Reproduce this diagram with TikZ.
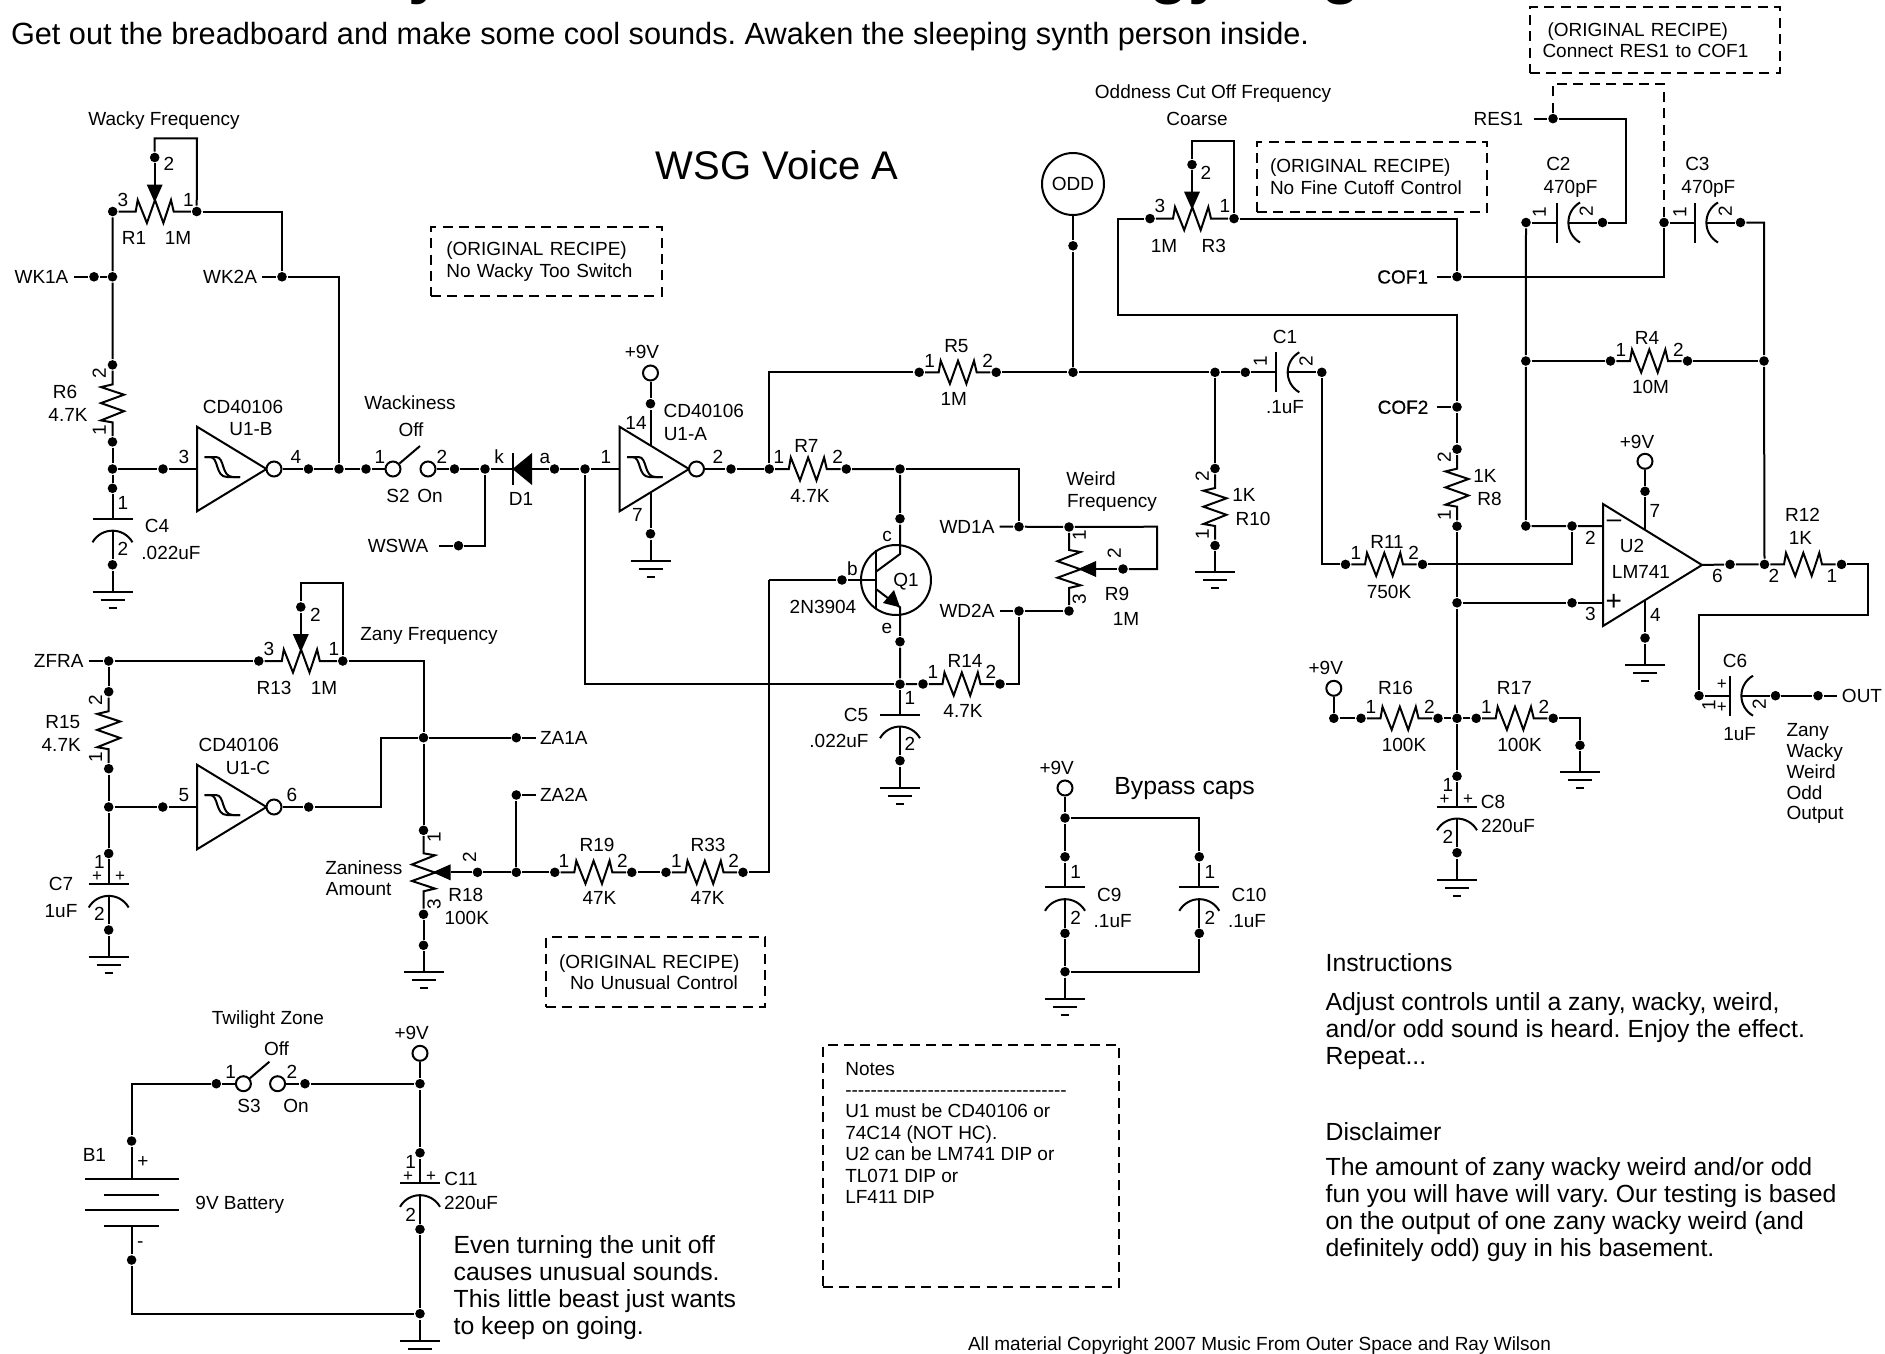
\documentclass[tikz,border=0pt]{standalone}
\usepackage{fontspec}
\setmainfont{Liberation Sans}
\newfontfamily\heavyfont[FakeBold=0.6]{Liberation Sans}
\usetikzlibrary{positioning}

\begin{document}
\frenchspacing
\begin{tikzpicture}[
    % GLOBAL CFG
    x=0.5pt,
    y=-0.5pt,
    line width=1pt,
    % Styles
    dot/.style={% For solder points
        circle,
        fill,
        inner sep=0pt,
        minimum size=4.8pt,
        },
    term/.style={% For open terminals, inverter bubbles and switch contacts
        circle,
        draw,
        fill=white,
        inner sep=0pt,
        minimum size=7.5pt,
        },
    lbl/.style={% Small labels
        font=\fontsize{9.5}{10.7}\selectfont,
        inner sep=0pt,
        text height=6.8pt,
        text depth=0pt,
        },
    lblr/.style={% Pin numbers on their side
        lbl,
        rotate=90,
        },
    lblw/.style={% Labels that start at their coordinate
        lbl,
        anchor=west,
        },
    lblp/.style={% The small plus signs on the polarised caps
        lbl,
        font=\fontsize{8.5}{10}\selectfont,
        text height=5pt,
        },
    recipe/.style={% Dashed boxes
        rectangle,
        draw,
        dash pattern=on 5pt off 3.2pt,
        font=\fontsize{9.5}{10.7}\selectfont,
        inner ysep=0pt,
        },
    note/.style={% Running text
        font=\fontsize{12.4}{13.5}\selectfont,
        align=left,
        anchor=north west,
        inner sep=0pt,
        },
    bigtop/.style={% What is left of the heading
        font=\fontsize{32}{32}\selectfont\bfseries,
        anchor=base,
        inner sep=0pt,
        },
    res/.pic={% Resistor, pin a left
        \node[dot] (-a) at (-38.5,0) {};
        \node[dot] (-b) at (38.5,0) {};
        \draw (-a) -- (-19,0) -- (-17,-11.5) -- (-7.8,11.5) -- (0.3,-11.5) -- (8.7,11.5) -- (16.3,-11.5) -- (19,0) -- (-b);
        },
    pot/.pic={% Potentiometer, wiper on top
        \node[dot] (-a) at (-42,0) {};
        \node[dot] (-b) at (42,0) {};
        \node[dot] (-w) at (0,-54) {};
        \draw (-a) -- (-19,0) -- (-17,-11.5) -- (-7.8,11.5) -- (0.3,-11.5) -- (8.7,11.5) -- (16.3,-11.5) -- (19,0) -- (-b);
        \draw (-w) -- (0,-27);
        \fill (-8,-27) -- (8,-27) -- (0,-9) -- cycle;
        },
    capa/.pic={% Capacitor, pin a on the plate side
        \node[dot] (-a) at (0,-30.5) {};
        \node[dot] (-b) at (0,46) {};
        \draw (-a) -- (0,0);
        \draw (-20,0) -- (20,0);
        \draw (-20,23.5) .. controls (-11,8) and (11,8) .. (20,23.5);
        \draw (0,12) -- (-b);
        },
    gnd/.pic={% Ground
        \coordinate (-t) at (0,0);
        \draw (-20,0) -- (20,0);
        \draw (-12,8) -- (12,8);
        \draw (-4,16) -- (4,16);
        },
    inv/.pic={% Schmitt inverter
        \coordinate (-in) at (0,0);
        \draw (0,-42.3) -- (69.5,0) -- (0,42.3) -- cycle;
        \node[term] (-out) at (77,0) {};
        \draw (7.5,-12) -- (13,-12) .. controls (22,-12) and (18,8) .. (30,8) -- (43,8);
        \draw (7.5,-12) -- (19,-12) .. controls (28,-12) and (24,8) .. (36,8) -- (43,8);
        },
    ]

\useasboundingbox (0,0) rectangle (1885,1354);

%Start drawing the thing...
    % Headings
    \node[bigtop] (top1) at (426,-8) {y};
    \node[bigtop] (top2) at (1187,-8) {gy};
    \node[bigtop] (top3) at (1341,-8) {g};
    \node[font=\fontsize{15.35}{17}\selectfont, anchor=west, inner sep=0pt] (sub) at (10,36.5) {Get out the breadboard and make some cool sounds. Awaken the sleeping synth person inside.};
    \node[font=\fontsize{20}{22}\selectfont, inner sep=0pt] (voice) at (777,165) {WSG Voice A};
    \node[lbl, anchor=west] (copy) at (967,1344) {All material Copyright 2007 Music From Outer Space and Ray Wilson};

    % Dashed boxes
    \node[recipe, minimum width=115.3pt, minimum height=34.4pt, text width=100pt, align=left] (box1) at (546.3,261.4) {(ORIGINAL RECIPE)\\No Wacky Too Switch};
    \node[recipe, minimum width=115.3pt, minimum height=34.6pt, text width=102pt, align=left] (box2) at (1372,176.9) {(ORIGINAL RECIPE)\\No Fine Cutoff Control};
    \node[recipe, minimum width=125pt, minimum height=33pt, text width=112pt, align=left] (box3) at (1654.5,40) {\hspace*{2.5pt}(ORIGINAL RECIPE)\\Connect RES1 to COF1};
    \node[recipe, minimum width=109.6pt, minimum height=34.7pt, text width=100pt, align=left] (box4) at (655.6,972) {\hspace*{1.7pt}(ORIGINAL RECIPE)\\\hspace*{7.2pt}No Unusual Control};
    \node[recipe, minimum width=148.3pt, minimum height=120.8pt] (notebox) at (971,1165.8) {};
    \node[lbl, align=left, anchor=north west, text height=, text depth=] (notes) at (844.3,1061) {Notes\\-{}-{}-{}-{}-{}-{}-{}-{}-{}-{}-{}-{}-{}-{}-{}-{}-{}-{}-{}-{}-{}-{}-{}-{}-{}-{}-{}-{}-{}-{}-{}-{}-{}-{}-{}\\U1 must be CD40106 or\\74C14 (NOT HC).\\U2 can be LM741 DIP or\\TL071 DIP or\\LF411 DIP};

    % Running text
    \node[note] (instr) at (1324.6,953) {Instructions};
    \node[note] (instrb) at (1324.6,992) {Adjust controls until a zany, wacky, weird,\\and/or odd sound is heard. Enjoy the effect.\\Repeat...};
    \node[note] (discl) at (1324.6,1122) {Disclaimer};
    \node[note] (disclb) at (1324.6,1157) {The amount of zany wacky weird and/or odd\\fun you will have will vary. Our testing is based\\on the output of one zany wacky weird (and\\definitely odd) guy in his basement.};
    \node[note] (even) at (452.6,1235) {Even turning the unit off\\causes unusual sounds.\\This little beast just wants\\to keep on going.};
    \node[note, anchor=west] (bypass) at (1113.3,789) {Bypass caps};

    % Draw resistors named as in the schematic
    \pic[rotate=90] (r6) at (112.5,403.4) {res};
    \pic (r5) at (957.7,372.3) {res};
    \pic (r7) at (807.8,469) {res};
    \pic (r14) at (961.5,684) {res};
    \pic[rotate=90] (r10) at (1215,507) {res};
    \pic[rotate=90] (r8) at (1457,487.7) {res};
    \pic (r4) at (1649,361) {res};
    \pic (r11) at (1384,564.4) {res};
    \pic (r12) at (1803,564.4) {res};
    \pic (r16) at (1399.5,718.3) {res};
    \pic (r17) at (1514.7,718.3) {res};
    \pic[rotate=90] (r15) at (108.7,730.2) {res};
    \pic (r19) at (593.3,872.3) {res};
    \pic (r33) at (704.5,872.3) {res};

    % Draw potentiometers
    \pic (r1) at (154.7,211.5) {pot};
    \pic (r3) at (1192,218.6) {pot};
    \pic (r13) at (300.8,661) {pot};
    \pic[rotate=-90] (r9) at (1069,569) {pot};
    \pic[rotate=-90] (r18) at (423.5,872.3) {pot};

    % Draw capacitors
    \pic (c4) at (112.5,518.8) {capa};
    \pic (c5) at (900,714.7) {capa};
    \pic (c7) at (108.7,884) {capa};
    \pic (c8) at (1457,806.7) {capa};
    \pic (c9) at (1065,887.3) {capa};
    \pic (c10) at (1199.3,887.3) {capa};
    \pic (c11) at (420,1183.3) {capa};
    \pic[rotate=90] (c1) at (1275.8,372.3) {capa};
    \pic[rotate=90] (c2) at (1556.5,222.5) {capa};
    \pic[rotate=90] (c3) at (1694.5,222.5) {capa};
    \pic[rotate=90] (c6) at (1729.5,695.7) {capa};

    % Draw grounds
    \pic (g1) at (112.5,592) {gnd};
    \pic (g2) at (650.5,560.7) {gnd};
    \pic (g3) at (900,787.7) {gnd};
    \pic (g4) at (1215,572.3) {gnd};
    \pic (g5) at (1645,664.7) {gnd};
    \pic (g6) at (1580,772) {gnd};
    \pic (g7) at (1457,880) {gnd};
    \pic (g8) at (108.7,956.7) {gnd};
    \pic (g9) at (423.5,971.7) {gnd};
    \pic (g10) at (1065,998.7) {gnd};
    \pic (g11) at (420,1341) {gnd};

    % Draw inverters named u1#
    \pic (u1b) at (197,469) {inv};
    \pic (u1a) at (619.5,469) {inv};
    \pic (u1c) at (197,807) {inv};

    % Draw the open terminals
    \node[term] (p9a) at (650.5,373) {};
    \node[term] (p9b) at (1645,461.3) {};
    \node[term] (p9c) at (1333.8,688.3) {};
    \node[term] (p9d) at (1065,788) {};
    \node[term] (p9e) at (420,1053.3) {};
    \node[term] (s2a) at (393,469) {};
    \node[term] (s2b) at (428,469) {};
    \node[term] (s3a) at (243.4,1083.7) {};
    \node[term] (s3b) at (277.6,1083.7) {};
    \node[circle, draw, inner sep=0pt, minimum size=31pt, font=\fontsize{9.5}{10.7}\selectfont] (odd) at (1073,184) {ODD};

    % Draw the solder points
    \node[dot] (wk1d) at (94,276.8) {};
    \node[dot] (wk1j) at (112.5,276.8) {};
    \node[dot] (wk2d) at (282,276.8) {};
    \node[dot] (u1bj) at (112.5,469) {};
    \node[dot] (u1bd) at (163,469) {};
    \node[dot] (u1bo) at (308.5,469) {};
    \node[dot] (n4j) at (339,469) {};
    \node[dot] (s2d1) at (366,469) {};
    \node[dot] (s2d2) at (454.5,469) {};
    \node[dot] (wsj) at (485,469) {};
    \node[dot] (wsd) at (458.5,545.7) {};
    \node[dot] (d1a) at (554.5,469) {};
    \node[dot] (u1aj) at (585,469) {};
    \node[dot] (u1atop) at (650.5,403.7) {};
    \node[dot] (u1abot) at (650.5,533.8) {};
    \node[dot] (u1ao) at (731,469) {};
    \node[dot] (r7j) at (900,469) {};
    \node[dot] (qc) at (900,518.7) {};
    \node[dot] (qb) at (842,580) {};
    \node[dot] (qe) at (900,641.7) {};
    \node[dot] (wd1d) at (1019,526.7) {};
    \node[dot] (wd2d) at (1019,611) {};
    \node[dot] (oddd) at (1073,245.8) {};
    \node[dot] (oddj) at (1073,372.3) {};
    \node[dot] (r10j) at (1215,372.3) {};
    \node[dot] (resd) at (1553,118.6) {};
    \node[dot] (cof1d) at (1457,276.7) {};
    \node[dot] (cof2d) at (1457,407) {};
    \node[dot] (r4l) at (1525.8,361) {};
    \node[dot] (r4r) at (1764,361) {};
    \node[dot] (u2l) at (1525.8,526) {};
    \node[dot] (u2n) at (1572,526) {};
    \node[dot] (u2p) at (1572,602.8) {};
    \node[dot] (vrj) at (1457,602.8) {};
    \node[dot] (r16j) at (1457,718.3) {};
    \node[dot] (p9cd) at (1333.8,718.3) {};
    \node[dot] (r17g) at (1580,745.3) {};
    \node[dot] (u2vd) at (1645,491.3) {};
    \node[dot] (u2g) at (1645,638) {};
    \node[dot] (u2od) at (1730,564.4) {};
    \node[dot] (outd) at (1818,695.7) {};
    \node[dot] (zfd) at (108.7,661) {};
    \node[dot] (u1cj) at (108.7,807) {};
    \node[dot] (u1cd) at (162.8,807) {};
    \node[dot] (u1co) at (308.7,807) {};
    \node[dot] (za1j) at (423.5,737.7) {};
    \node[dot] (za1d) at (516.3,737.7) {};
    \node[dot] (za2d) at (516.3,795) {};
    \node[dot] (za2j) at (516.3,872.3) {};
    \node[dot] (r18d) at (423.5,945.3) {};
    \node[dot] (byt) at (1065,818) {};
    \node[dot] (byb) at (1065,971.7) {};
    \node[dot] (s3d1) at (216.3,1083.7) {};
    \node[dot] (s3d2) at (305,1083.7) {};
    \node[dot] (t1) at (420,1083.7) {};
    \node[dot] (t2) at (420,1313.7) {};
    \node[dot] (b1dp) at (131.6,1141) {};
    \node[dot] (b1dm) at (131.6,1260) {};

    % Free ends and corners
    \coordinate (wk1end) at (74,276.8);
    \coordinate (wk2end) at (262,276.8);
    \coordinate (wsend) at (438.5,545.7);
    \coordinate (r1top) at (197,138.4);
    \coordinate (r3top) at (1234,141.5);
    \coordinate (r3l) at (1118.4,314.6);
    \coordinate (r9top) at (1157,526.7);
    \coordinate (r12c) at (1868,615);
    \coordinate (r13top) at (342.8,583);
    \coordinate (u1atri) at (650.5,445);
    \coordinate (u1btri) at (650.5,493);
    \coordinate (wd1end) at (999.7,526.7);
    \coordinate (wd2end) at (999.7,611);
    \coordinate (resend) at (1533.7,118.6);
    \coordinate (rescn) at (1625.8,222.5);
    \coordinate (rest) at (1664,84);
    \coordinate (cof1end) at (1437,276.7);
    \coordinate (cof2end) at (1437,407);
    \coordinate (outend) at (1837,695.7);
    \coordinate (zfend) at (89,661);
    \coordinate (z1c) at (381,737.7);
    \coordinate (za1end) at (535.7,737.7);
    \coordinate (za2end) at (535.7,795);
    \coordinate (qbc) at (769,580);
    \coordinate (q1bar) at (876,580);
    \coordinate (q1c) at (900,554);
    \coordinate (q1cb) at (876,571.7);
    \coordinate (q1e) at (900,607.3);
    \coordinate (q1eb) at (876,589);
    \coordinate (u2minus) at (1603,526);
    \coordinate (u2plus) at (1603,602.8);
    \coordinate (u2tip) at (1702,565);
    \coordinate (u2vt) at (1645,529);
    \coordinate (u2vb) at (1645,600);
    \coordinate (s2arm) at (420,446);
    \coordinate (s3arm) at (269.4,1061.7);
    \coordinate (b1p) at (131.6,1179.3);
    \coordinate (b1m) at (131.6,1225.7);

% Start connecting all.
    % Wacky part
    \draw (r1-w) |- (r1top) -- (r1-b);
    \draw (r1-a) -- (wk1j) -- (r6-b);
    \draw (wk1end) -- (wk1d) -- (wk1j);
    \draw (r1-b) -| (wk2d);
    \draw (wk2end) -- (wk2d) -| (n4j);
    \draw (r6-a) -- (u1bj) -- (c4-a);
    \draw (c4-b) -- (g1-t);
    \draw (u1bj) -- (u1bd) -- (u1b-in);
    \draw (u1b-out) -- (u1bo) -- (n4j) -- (s2d1) -- (s2a);
    \draw (s2a) -- (s2arm);
    \draw (s2b) -- (s2d2) -- (wsj) -- (d1a) -- (u1aj) -- (u1a-in);
    \draw (wsend) -- (wsd) -| (wsj);

    % U1-A and the transistor
    \draw (p9a) -- (u1atop) -- (u1atri);
    \draw (u1btri) -- (u1abot) -- (g2-t);
    \draw (u1a-out) -- (u1ao) -- (r7-a);
    \draw (r7-a) |- (r5-a);
    \draw (r7-b) -- (r7j) -- (qc) -- (q1c) -- (q1cb);
    \draw (r7j) -| (wd1d);
    \draw (wd1end) -- (wd1d) -- (r9-a);
    \draw (r9-w) -| (r9top) -- (r9-a);
    \draw (wd2end) -- (wd2d) -- (r9-b);
    \draw (wd2d) |- (r14-b);
    \draw (r14-a) -- (c5-a);
    \draw (u1aj) |- (c5-a);
    \draw (q1eb) -- (q1e) -- (qe) -- (c5-a);
    \draw (c5-b) -- (g3-t);
    \node[circle, draw, inner sep=0pt, minimum size=35pt] (q1) at (896,580) {};
    \draw (876,550) -- (876,608);
    \draw (qbc) -- (qb) -- (q1bar);
    \fill (883,603) -- (894,590) -- (q1e) -- cycle;

    % Odd part
    \draw (r5-b) -- (oddj) -- (r10j) -- (c1-a);
    \draw (odd) -- (oddd) -- (oddj);
    \draw (r10j) -- (r10-b);
    \draw (r10-a) -- (g4-t);
    \draw (c1-b) |- (r11-a);
    \draw (r11-b) -| (u2n);
    \draw (c2-a) -- (r4l) -- (u2l) -- (u2n) -- (u2minus);
    \draw (r4l) -- (r4-a);
    \draw (r4-b) -- (r4r);
    \draw (c3-b) -| (r4r) -- (r12-a);
    \draw (resend) -- (resd) -| (rescn) -- (c2-b);
    \draw[dash pattern=on 5pt off 3.2pt] (resd) |- (rest) -- (c3-a);
    \draw (cof1end) -- (cof1d) -| (c3-a);
    \draw (r3-b) -| (cof1d);
    \draw (r3-w) |- (r3top) -- (r3-b);
    \draw (r3-a) -| (r3l) -| (cof2d);
    \draw (cof2end) -- (cof2d) -- (r8-b);
    \draw (r8-a) -- (vrj) -- (r16j) -- (c8-a);
    \draw (c8-b) -- (g7-t);
    \draw (vrj) -- (u2p) -- (u2plus);

    % The op amp
    \draw (1603,504) -- (u2tip) -- (1603,626) -- cycle;
    \draw (p9b) -- (u2vd) -- (u2vt);
    \draw (u2vb) -- (u2g) -- (g5-t);
    \draw (u2tip) -- (u2od) -- (r12-a);
    \draw (r12-b) -| (r12c) -| (c6-a);
    \draw (c6-b) -- (outd) -- (outend);
    \draw (p9c) -- (p9cd) -- (r16-a);
    \draw (r16-b) -- (r16j) -- (r17-a);
    \draw (r17-b) -| (r17g);
    \draw (r17g) -- (g6-t);

    % Zany part
    \draw (zfend) -- (zfd) -- (r13-a);
    \draw (zfd) -- (r15-b);
    \draw (r15-a) -- (u1cj) -- (c7-a);
    \draw (c7-b) -- (g8-t);
    \draw (u1cj) -- (u1cd) -- (u1c-in);
    \draw (u1c-out) -- (u1co) -| (z1c) -- (za1j) -- (za1d) -- (za1end);
    \draw (r13-w) |- (r13top) -- (r13-b);
    \draw (r13-b) -| (za1j);
    \draw (za1j) -- (r18-a);
    \draw (r18-b) -- (r18d) -- (g9-t);
    \draw (r18-w) -- (za2j) -- (r19-a);
    \draw (za2j) -- (za2d) -- (za2end);
    \draw (r19-b) -- (r33-a);
    \draw (r33-b) -| (qbc);

    % Bypass caps
    \draw (p9d) -- (byt) -- (c9-a);
    \draw (c9-b) -- (byb) -- (g10-t);
    \draw (byt) -| (c10-a);
    \draw (c10-b) |- (byb);

    % Battery and switch
    \draw (p9e) -- (t1) -- (c11-a);
    \draw (c11-b) -- (t2) -- (g11-t);
    \draw (s3b) -- (s3d2) -- (t1);
    \draw (s3d1) -- (s3a);
    \draw (s3a) -- (s3arm);
    \draw (s3d1) -| (b1dp) -- (b1p);
    \draw (b1m) -- (b1dm) |- (t2);
    \draw (85,1179.3) -- (178.6,1179.3);
    \draw (104,1195) -- (159,1195);
    \draw (85,1210) -- (178.6,1210);
    \draw (104,1225.7) -- (159,1225.7);

    % Diode D1
    \draw (512.5,453) -- (512.5,485);
    \fill (512.5,469) -- (532,453) -- (532,485) -- cycle;

% Labels
    % Wacky part
    \node[lbl] (lwf) at (164,118.6) {Wacky Frequency};
    \node[lbl] (pr1w) at (169,164) {2};
    \node[lbl] (pr1a) at (123,199.7) {3};
    \node[lbl] (pr1b) at (188.5,199.7) {1};
    \node[lbl] (lr1) at (134,237.6) {R1};
    \node[lbl] (vr1) at (178,237.6) {1M};
    \node[lbl] (lwk1) at (41.5,276.8) {WK1A};
    \node[lbl] (lwk2) at (230,276.8) {WK2A};
    \node[lbl] (lr6) at (65,391.5) {R6};
    \node[lbl] (vr6) at (68,414.4) {4.7K};
    \node[lblr] (pr6b) at (99,373.7) {2};
    \node[lblr] (pr6a) at (99,429.8) {1};
    \node[lbl] (lu1b) at (243,406.5) {CD40106};
    \node[lbl] (tu1b) at (251,429) {U1-B};
    \node[lbl] (pu1bi) at (184,456.7) {3};
    \node[lbl] (pu1bo) at (296,456.7) {4};
    \node[lbl] (lwack) at (410,402.5) {Wackiness};
    \node[lbl] (ls2off) at (411,429.4) {Off};
    \node[lbl] (ps2a) at (380,456.7) {1};
    \node[lbl] (ps2b) at (442,456.7) {2};
    \node[lbl] (ls2) at (398,495.9) {S2};
    \node[lbl] (ls2on) at (430,495.9) {On};
    \node[lbl] (pd1k) at (499,456.7) {k};
    \node[lbl] (pd1a) at (545,456.7) {a};
    \node[lbl] (ld1) at (521,499) {D1};
    \node[lbl] (lws) at (398,545.7) {WSWA};
    \node[lbl] (pc4a) at (123,503) {1};
    \node[lbl] (pc4b) at (123,548.8) {2};
    \node[lbl] (lc4) at (157,526) {C4};
    \node[lbl] (vc4) at (171,552.4) {.022uF};

    % U1-A and the transistor
    \node[lbl] (l9a) at (642,352) {+9V};
    \node[lbl] (lu1a) at (703.8,410.7) {CD40106};
    \node[lbl] (tu1a) at (685.4,434) {U1-A};
    \node[lbl] (pu1av) at (636,422.7) {14};
    \node[lbl] (pu1ai) at (606,456.7) {1};
    \node[lbl] (pu1ag) at (637.5,514.8) {7};
    \node[lbl] (pu1ao) at (718,456.7) {2};
    \node[lbl] (pr5a) at (929.6,360.7) {1};
    \node[lbl] (lr5) at (956.4,345.7) {R5};
    \node[lbl] (pr5b) at (987.7,360.7) {2};
    \node[lbl] (vr5) at (953.7,399) {1M};
    \node[lbl] (pr7a) at (779,456.7) {1};
    \node[lbl] (lr7) at (806.4,445.7) {R7};
    \node[lbl] (pr7b) at (837.7,456.7) {2};
    \node[lbl] (vr7) at (810,495.7) {4.7K};
    \node[lbl] (lwe1) at (1091,479) {Weird};
    \node[lbl] (lwe2) at (1112,501) {Frequency};
    \node[lbl] (lwd1) at (967,526.7) {WD1A};
    \node[lbl] (lwd2) at (967,611) {WD2A};
    \node[lblr] (pr9a) at (1079,535.7) {1};
    \node[lblr] (pr9w) at (1114,553) {2};
    \node[lblr] (pr9b) at (1079,599) {3};
    \node[lbl] (lr9) at (1117,594) {R9};
    \node[lbl] (vr9) at (1126,619) {1M};
    \node[lbl] (pqc) at (887,534.3) {c};
    \node[lbl] (pqb) at (852.4,569) {b};
    \node[lbl] (pqe) at (887,626.7) {e};
    \node[lbl] (lq1) at (906,579.3) {Q1};
    \node[lbl] (vq1) at (823,606.7) {2N3904};
    \node[lbl] (pr14a) at (933,671.7) {1};
    \node[lbl] (lr14) at (965,660.7) {R14};
    \node[lbl] (pr14b) at (991,671.7) {2};
    \node[lbl] (vr14) at (963,710.7) {4.7K};
    \node[lbl] (pc5a) at (910,698) {1};
    \node[lbl] (lc5) at (856,714.7) {C5};
    \node[lbl] (vc5) at (839,740.7) {.022uF};
    \node[lbl] (pc5b) at (910,744) {2};

    % Odd part
    \node[lbl] (lodd1) at (1213,91.7) {Oddness Cut Off Frequency};
    \node[lbl] (lodd2) at (1197,118.6) {Coarse};
    \node[lbl] (pr3w) at (1206,172.7) {2};
    \node[lbl] (pr3a) at (1160,206) {3};
    \node[lbl] (pr3b) at (1225,206) {1};
    \node[lbl] (vr3) at (1164,245.8) {1M};
    \node[lbl] (lr3) at (1213.7,245.8) {R3};
    \node[lbl] (lres) at (1498.4,118.6) {RES1};
    \node[lbl] (lc2) at (1558.4,164) {C2};
    \node[lbl] (vc2) at (1570.5,187) {470pF};
    \node[lblr] (pc2a) at (1539,212) {1};
    \node[lblr] (pc2b) at (1586,211.5) {2};
    \node[lbl] (lc3) at (1697.4,164) {C3};
    \node[lbl] (vc3) at (1708.4,187) {470pF};
    \node[lblr] (pc3a) at (1679.5,212) {1};
    \node[lblr] (pc3b) at (1725,211.5) {2};
    \node[lbl, font=\fontsize{9.5}{10.7}\heavyfont] (lcof1) at (1402.6,276.7) {COF1};
    \node[lbl, font=\fontsize{9.5}{10.7}\heavyfont] (lcof2) at (1403,407) {COF2};
    \node[lbl] (lc1) at (1285,337) {C1};
    \node[lbl] (vc1) at (1285,407) {.1uF};
    \node[lblr] (pc1a) at (1260,361.7) {1};
    \node[lblr] (pc1b) at (1305.8,361.7) {2};
    \node[lbl] (lr4) at (1647,338) {R4};
    \node[lbl] (vr4) at (1650.5,387) {10M};
    \node[lbl] (pr4a) at (1621,350) {1};
    \node[lbl] (pr4b) at (1678.4,350) {2};
    \node[lblr] (pr8b) at (1444,457.3) {2};
    \node[lblr] (pr8a) at (1444,515) {1};
    \node[lbl] (vr8) at (1485,475.5) {1K};
    \node[lbl] (lr8) at (1489.5,498.8) {R8};
    \node[lblr] (pr10b) at (1202,476) {2};
    \node[lblr] (pr10a) at (1202,534.4) {1};
    \node[lbl] (vr10) at (1244,495) {1K};
    \node[lbl] (lr10) at (1253,518.6) {R10};
    \node[lbl] (lr11) at (1387,541.5) {R11};
    \node[lbl] (vr11) at (1389,591.7) {750K};
    \node[lbl] (pr11a) at (1356,552.6) {1};
    \node[lbl] (pr11b) at (1413.7,552.6) {2};

    % The op amp
    \node[lbl] (l9b) at (1637,442) {+9V};
    \node[lbl] (pu2v) at (1655,511) {7};
    \node[lbl] (pu2m) at (1590.5,537.5) {2};
    \node[lbl] (pu2p) at (1590.5,613.8) {3};
    \node[lbl] (pu2g) at (1655.5,615) {4};
    \node[lbl] (pu2o) at (1717.4,576) {6};
    \node[lbl] (lu2) at (1632,545.5) {U2};
    \node[lbl] (tu2) at (1641,572) {LM741};
    \node[font=\fontsize{13}{13}\selectfont, inner sep=0pt] (sminus) at (1614,524) {--};
    \node[font=\fontsize{14}{14}\selectfont, inner sep=0pt] (splus) at (1613.7,602.8) {+};
    \node[lbl] (lr12) at (1802.6,514.6) {R12};
    \node[lbl] (vr12) at (1800.5,537.5) {1K};
    \node[lbl] (pr12a) at (1774,576) {2};
    \node[lbl] (pr12b) at (1832,576) {1};
    \node[lbl] (lc6) at (1735,660.7) {C6};
    \node[lbl] (vc6) at (1739.7,734) {1uF};
    \node[lblp] (pc6p1) at (1721.7,684) {+};
    \node[lblp] (pc6p2) at (1721.7,707.3) {+};
    \node[lblr] (pc6a) at (1708.6,705) {1};
    \node[lblr] (pc6b) at (1759,704) {2};
    \node[lbl] (lout) at (1862,695.7) {OUT};
    \node[lblw] (lo1) at (1785.5,730) {Zany};
    \node[lblw] (lo2) at (1785.5,750.7) {Wacky};
    \node[lblw] (lo3) at (1785.5,771.7) {Weird};
    \node[lblw] (lo4) at (1785.5,792.7) {Odd};
    \node[lblw] (lo5) at (1785.5,813) {Output};
    \node[lbl] (l9c) at (1325.8,667.7) {+9V};
    \node[lbl] (lr16) at (1395.6,687.7) {R16};
    \node[lbl] (vr16) at (1404,745) {100K};
    \node[lbl] (pr16a) at (1371,706.7) {1};
    \node[lbl] (pr16b) at (1429.5,706.7) {2};
    \node[lbl] (lr17) at (1514.4,687.7) {R17};
    \node[lbl] (vr17) at (1519.6,745) {100K};
    \node[lbl] (pr17a) at (1486.5,706.7) {1};
    \node[lbl] (pr17b) at (1544,706.7) {2};
    \node[lbl] (pc8a) at (1448,785) {1};
    \node[lblp] (pc8p1) at (1444.6,799.5) {+};
    \node[lblp] (pc8p2) at (1468,799.5) {+};
    \node[lbl] (pc8b) at (1448,836.7) {2};
    \node[lbl] (lc8) at (1493,802) {C8};
    \node[lbl] (vc8) at (1508,826) {220uF};

    % Zany part
    \node[lbl] (lzf) at (58.7,661) {ZFRA};
    \node[lbl] (pr13w) at (315.3,615) {2};
    \node[lbl] (pr13a) at (269,649) {3};
    \node[lbl] (pr13b) at (334,649) {1};
    \node[lbl] (lr13) at (274,687.7) {R13};
    \node[lbl] (vr13) at (324,687.7) {1M};
    \node[lbl] (lzfq) at (429,633.7) {Zany Frequency};
    \node[lblr] (pr15b) at (95.4,700) {2};
    \node[lblr] (pr15a) at (95.4,757.3) {1};
    \node[lbl] (lr15) at (62.8,721.3) {R15};
    \node[lbl] (vr15) at (61.2,745) {4.7K};
    \node[lbl] (lu1c) at (238.8,745) {CD40106};
    \node[lbl] (tu1c) at (248,767.3) {U1-C};
    \node[lbl] (pu1ci) at (184,795) {5};
    \node[lbl] (pu1co) at (292,795) {6};
    \node[lbl] (lza1) at (563.8,737.7) {ZA1A};
    \node[lbl] (lza2) at (563.8,795) {ZA2A};
    \node[lbl] (pc7a) at (99.5,862) {1};
    \node[lblp] (pc7p1) at (97,876.5) {+};
    \node[lblp] (pc7p2) at (120,876.5) {+};
    \node[lbl] (pc7b) at (99.5,913.3) {2};
    \node[lbl] (lc7) at (61,884) {C7};
    \node[lbl] (vc7) at (61,910.7) {1uF};
    \node[lblr] (pr18a) at (433.7,837.3) {1};
    \node[lblr] (pr18w) at (469.4,857.3) {2};
    \node[lblr] (pr18b) at (433.7,904) {3};
    \node[lbl] (lr18) at (465.8,894.3) {R18};
    \node[lbl] (vr18) at (466.8,917.3) {100K};
    \node[lbl] (lzan1) at (363.8,867.7) {Zaniness};
    \node[lbl] (lzan2) at (358.7,888.3) {Amount};
    \node[lbl] (lr19) at (597,844.3) {R19};
    \node[lbl] (vr19) at (599.5,897.7) {47K};
    \node[lbl] (pr19a) at (564,860.7) {1};
    \node[lbl] (pr19b) at (622.4,860.7) {2};
    \node[lbl] (lr33) at (708,844.3) {R33};
    \node[lbl] (vr33) at (707.6,897.7) {47K};
    \node[lbl] (pr33a) at (676.5,860.7) {1};
    \node[lbl] (pr33b) at (733.7,860.7) {2};

    % Bypass caps
    \node[lbl] (l9d) at (1056.7,768) {+9V};
    \node[lbl] (pc9a) at (1075.7,871.7) {1};
    \node[lbl] (pc9b) at (1075.7,917.3) {2};
    \node[lbl] (lc9) at (1109.3,894.3) {C9};
    \node[lbl] (vc9) at (1112.7,921) {.1uF};
    \node[lbl] (pc10a) at (1210,871.7) {1};
    \node[lbl] (pc10b) at (1210,917.3) {2};
    \node[lbl] (lc10) at (1249,894.3) {C10};
    \node[lbl] (vc10) at (1247,921) {.1uF};

    % Battery and switch
    \node[lbl] (ltw) at (267.9,1017.7) {Twilight Zone};
    \node[lbl] (ls3off) at (276.5,1048.3) {Off};
    \node[lbl] (l9e) at (411.7,1032.3) {+9V};
    \node[lbl] (ps3a) at (230.6,1071.7) {1};
    \node[lbl] (ps3b) at (291.8,1071.7) {2};
    \node[lbl] (ls3) at (249,1106) {S3};
    \node[lbl] (ls3on) at (296,1106) {On};
    \node[lbl] (lb1) at (94.4,1155) {B1};
    \node[lbl] (pb1p) at (142.9,1160.3) {+};
    \node[lbl] (pb1m) at (140.3,1241) {-};
    \node[lbl] (vb1) at (239.8,1202.7) {9V Battery};
    \node[lbl] (pc11a) at (410.7,1162) {1};
    \node[lblp] (pc11p1) at (408,1176.5) {+};
    \node[lblp] (pc11p2) at (431,1176.5) {+};
    \node[lbl] (pc11b) at (410.7,1214.3) {2};
    \node[lbl] (lc11) at (461,1178.3) {C11};
    \node[lbl] (vc11) at (471,1202.3) {220uF};

\end{tikzpicture}
\end{document}
